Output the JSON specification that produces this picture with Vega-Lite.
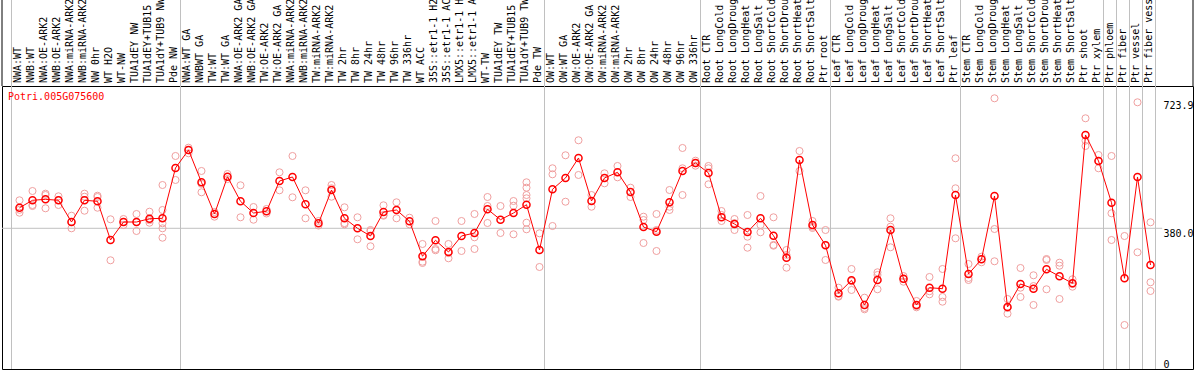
{
  "$schema": "https://vega.github.io/schema/vega-lite/v6.json",
  "width": 1191,
  "height": 283,
  "autosize": {"type": "none"},
  "padding": {"left": 2, "top": 86, "right": 1, "bottom": 1},
  "background": "white",
  "title": {"text": "Potri.005G075600", "orient": "bottom", "anchor": "start", "frame": "group", "offset": 0, "dx": 6, "dy": -278, "baseline": "top", "color": "#ff0000", "font": "DejaVu Sans Mono", "fontSize": 10, "fontWeight": "normal"},
  "config": {"view": {"stroke": "black", "strokeWidth": 1}, "font": "DejaVu Sans Mono"},
  "resolve": {"axis": {"x": "independent", "y": "independent"}},
  "datasets": {
    "groups": [
      {"group": "NW", "first": 1, "last": 13},
      {"group": "TW", "first": 14, "last": 41},
      {"group": "OW", "first": 42, "last": 53},
      {"group": "Root", "first": 54, "last": 63},
      {"group": "Leaf", "first": 64, "last": 73},
      {"group": "Stem", "first": 74, "last": 84},
      {"group": "Phloem", "first": 85, "last": 85},
      {"group": "Fiber", "first": 86, "last": 86},
      {"group": "Vessel", "first": 87, "last": 87},
      {"group": "FiberVessel", "first": 88, "last": 88}
    ],
    "means": [
      {"idx": 1, "sample": "NWA:WT", "mean": 435.6},
      {"idx": 2, "sample": "NWB:WT", "mean": 455.6},
      {"idx": 3, "sample": "NWA:OE-ARK2", "mean": 458.3},
      {"idx": 4, "sample": "NWB:OE-ARK2", "mean": 455.6},
      {"idx": 5, "sample": "NWA:miRNA-ARK2", "mean": 397.0},
      {"idx": 6, "sample": "NWB:miRNA-ARK2", "mean": 455.6},
      {"idx": 7, "sample": "NW 0hr", "mean": 452.9},
      {"idx": 8, "sample": "WT H2O", "mean": 348.4},
      {"idx": 9, "sample": "WT-NW", "mean": 397.0},
      {"idx": 10, "sample": "TUA1dEY NW", "mean": 397.0},
      {"idx": 11, "sample": "TUA1dEY+TUB15 NW", "mean": 405.9},
      {"idx": 12, "sample": "TUA1dY+TUB9 NW", "mean": 407.0},
      {"idx": 13, "sample": "Pde NW", "mean": 542.9},
      {"idx": 14, "sample": "NWA:WT GA", "mean": 591.5},
      {"idx": 15, "sample": "NWBWT GA", "mean": 504.2},
      {"idx": 16, "sample": "TW:WT", "mean": 418.6},
      {"idx": 17, "sample": "TW:WT GA", "mean": 519.4},
      {"idx": 18, "sample": "NWA:OE-ARK2 GA", "mean": 452.9},
      {"idx": 19, "sample": "NWB:OE-ARK2 GA", "mean": 421.3},
      {"idx": 20, "sample": "TW:OE-ARK2", "mean": 425.9},
      {"idx": 21, "sample": "TW:OE-ARK2 GA", "mean": 507.7},
      {"idx": 22, "sample": "NWA:miRNA-ARK2 GA", "mean": 518.6},
      {"idx": 23, "sample": "NWB:miRNA-ARK2 GA", "mean": 444.8},
      {"idx": 24, "sample": "TW:miRNA-ARK2", "mean": 393.5},
      {"idx": 25, "sample": "TW:miRNA-ARK2 GA", "mean": 483.4},
      {"idx": 26, "sample": "TW 2hr", "mean": 407.0},
      {"idx": 27, "sample": "TW 8hr", "mean": 380.0},
      {"idx": 28, "sample": "TW 24hr", "mean": 359.2},
      {"idx": 29, "sample": "TW 48hr", "mean": 424.0},
      {"idx": 30, "sample": "TW 96hr", "mean": 429.4},
      {"idx": 31, "sample": "TW 336hr", "mean": 398.9},
      {"idx": 32, "sample": "WT ACC", "mean": 304.4},
      {"idx": 33, "sample": "35S::etr1-1 H2O", "mean": 347.6},
      {"idx": 34, "sample": "35S::etr1-1 ACC", "mean": 316.0},
      {"idx": 35, "sample": "LMX5::etr1-1 H2O", "mean": 359.2},
      {"idx": 36, "sample": "LMX5::etr1-1 ACC", "mean": 367.3},
      {"idx": 37, "sample": "WT-TW", "mean": 431.3},
      {"idx": 38, "sample": "TUA1dEY TW", "mean": 403.2},
      {"idx": 39, "sample": "TUA1dEY+TUB15 TW", "mean": 421.3},
      {"idx": 40, "sample": "TUA1dY+TUB9 TW", "mean": 443.7},
      {"idx": 41, "sample": "Pde TW", "mean": 321.4},
      {"idx": 42, "sample": "OW:WT", "mean": 485.3},
      {"idx": 43, "sample": "OW:WT GA", "mean": 515.9},
      {"idx": 44, "sample": "OW:OE-ARK2", "mean": 569.9},
      {"idx": 45, "sample": "OW:OE-ARK2 GA", "mean": 453.7},
      {"idx": 46, "sample": "OW:miRNA-ARK2", "mean": 515.9},
      {"idx": 47, "sample": "OW:miRNA-ARK2 GA", "mean": 531.2},
      {"idx": 48, "sample": "OW 2hr", "mean": 478.0},
      {"idx": 49, "sample": "OW 8hr", "mean": 383.5},
      {"idx": 50, "sample": "OW 24hr", "mean": 370.8},
      {"idx": 51, "sample": "OW 48hr", "mean": 450.2},
      {"idx": 52, "sample": "OW 96hr", "mean": 534.8},
      {"idx": 53, "sample": "OW 336hr", "mean": 556.4},
      {"idx": 54, "sample": "Root CTR", "mean": 529.4},
      {"idx": 55, "sample": "Root LongCold", "mean": 409.7},
      {"idx": 56, "sample": "Root LongDrought", "mean": 391.6},
      {"idx": 57, "sample": "Root LongHeat", "mean": 370.0},
      {"idx": 58, "sample": "Root LongSalt", "mean": 407.0},
      {"idx": 59, "sample": "Root ShortCold", "mean": 360.0},
      {"idx": 60, "sample": "Root ShortDrought", "mean": 300.6},
      {"idx": 61, "sample": "Root ShortHeat", "mean": 564.5},
      {"idx": 62, "sample": "Root ShortSalt", "mean": 388.9},
      {"idx": 63, "sample": "Ptr root", "mean": 334.1},
      {"idx": 64, "sample": "Leaf CTR", "mean": 204.5},
      {"idx": 65, "sample": "Leaf LongCold", "mean": 239.6},
      {"idx": 66, "sample": "Leaf LongDrought", "mean": 172.9},
      {"idx": 67, "sample": "Leaf LongHeat", "mean": 240.4},
      {"idx": 68, "sample": "Leaf LongSalt", "mean": 375.4},
      {"idx": 69, "sample": "Leaf ShortCold", "mean": 243.9},
      {"idx": 70, "sample": "Leaf ShortDrought", "mean": 172.9},
      {"idx": 71, "sample": "Leaf ShortHeat", "mean": 219.6},
      {"idx": 72, "sample": "Leaf ShortSalt", "mean": 216.9},
      {"idx": 73, "sample": "Ptr leaf", "mean": 469.9},
      {"idx": 74, "sample": "Stem CTR", "mean": 256.6},
      {"idx": 75, "sample": "Stem LongCold", "mean": 296.3},
      {"idx": 76, "sample": "Stem LongDrought", "mean": 467.2},
      {"idx": 77, "sample": "Stem LongHeat", "mean": 167.5},
      {"idx": 78, "sample": "Stem LongSalt", "mean": 229.6},
      {"idx": 79, "sample": "Stem ShortCold", "mean": 216.9},
      {"idx": 80, "sample": "Stem ShortDrought", "mean": 269.3},
      {"idx": 81, "sample": "Stem ShortHeat", "mean": 250.4},
      {"idx": 82, "sample": "Stem ShortSalt", "mean": 231.5},
      {"idx": 83, "sample": "Ptr shoot", "mean": 632.0},
      {"idx": 84, "sample": "Ptr xylem", "mean": 561.8},
      {"idx": 85, "sample": "Ptr phloem", "mean": 449.1},
      {"idx": 86, "sample": "Ptr fiber", "mean": 245.0},
      {"idx": 87, "sample": "Ptr vessel", "mean": 518.6},
      {"idx": 88, "sample": "Ptr fiber vessel", "mean": 280.9}
    ],
    "reps": [
      {"idx":1,"value":455.6},{"idx":1,"value":430.0},{"idx":1,"value":422.1},
      {"idx":2,"value":480.7},{"idx":2,"value":442.9},{"idx":2,"value":440.2},
      {"idx":3,"value":473.5},{"idx":3,"value":469.9},{"idx":3,"value":434.0},
      {"idx":4,"value":466.4},{"idx":4,"value":456.4},{"idx":4,"value":442.9},
      {"idx":5,"value":414.0},{"idx":5,"value":397.0},{"idx":5,"value":380.0},
      {"idx":6,"value":473.5},{"idx":6,"value":465.3},{"idx":6,"value":427.5},
      {"idx":7,"value":468.0},{"idx":7,"value":464.5},{"idx":7,"value":435.6},
      {"idx":8,"value":404.3},{"idx":8,"value":293.6},
      {"idx":9,"value":405.1},{"idx":9,"value":397.0},{"idx":9,"value":388.9},
      {"idx":10,"value":418.6},{"idx":10,"value":397.0},{"idx":10,"value":372.7},
      {"idx":11,"value":424.8},{"idx":11,"value":402.0},{"idx":11,"value":395.1},
      {"idx":12,"value":496.9},{"idx":12,"value":429.4},{"idx":12,"value":393.5},{"idx":12,"value":380.0},{"idx":12,"value":354.6},
      {"idx":13,"value":575.3},{"idx":13,"value":510.5},
      {"idx":14,"value":597.7},{"idx":14,"value":591.0},{"idx":14,"value":582.6},
      {"idx":15,"value":534.8},{"idx":15,"value":500.0},{"idx":15,"value":477.2},
      {"idx":16,"value":424.0},{"idx":16,"value":411.3},
      {"idx":17,"value":526.7},{"idx":17,"value":513.0},
      {"idx":18,"value":496.1},{"idx":18,"value":409.7},
      {"idx":19,"value":437.5},{"idx":19,"value":403.2},
      {"idx":20,"value":432.1},{"idx":20,"value":420.0},
      {"idx":21,"value":531.2},{"idx":21,"value":482.6},
      {"idx":22,"value":575.3},{"idx":22,"value":463.7},
      {"idx":23,"value":482.6},{"idx":23,"value":407.0},
      {"idx":24,"value":399.7},{"idx":24,"value":387.5},
      {"idx":25,"value":496.9},{"idx":25,"value":488.0},{"idx":25,"value":465.3},
      {"idx":26,"value":436.7},{"idx":26,"value":394.0},{"idx":26,"value":390.8},
      {"idx":27,"value":409.7},{"idx":27,"value":350.3},
      {"idx":28,"value":375.4},{"idx":28,"value":371.9},{"idx":28,"value":331.4},
      {"idx":29,"value":442.1},{"idx":29,"value":416.0},{"idx":29,"value":414.0},
      {"idx":30,"value":450.2},{"idx":30,"value":407.0},
      {"idx":31,"value":408.6},{"idx":31,"value":390.8},
      {"idx":32,"value":337.6},{"idx":32,"value":289.8},{"idx":32,"value":286.3},
      {"idx":33,"value":399.7},{"idx":33,"value":324.0},{"idx":33,"value":320.6},
      {"idx":34,"value":337.6},{"idx":34,"value":313.0},{"idx":34,"value":299.0},
      {"idx":35,"value":399.7},{"idx":35,"value":318.7},
      {"idx":36,"value":418.6},{"idx":36,"value":355.7},{"idx":36,"value":324.1},
      {"idx":37,"value":464.5},{"idx":37,"value":440.2},{"idx":37,"value":394.3},
      {"idx":38,"value":440.2},{"idx":38,"value":367.3},
      {"idx":39,"value":453.7},{"idx":39,"value":441.0},{"idx":39,"value":363.8},
      {"idx":40,"value":504.2},{"idx":40,"value":489.7},{"idx":40,"value":469.9},{"idx":40,"value":461.0},{"idx":40,"value":395.1},{"idx":40,"value":377.3},
      {"idx":41,"value":366.5},{"idx":41,"value":275.5},
      {"idx":42,"value":542.1},{"idx":42,"value":525.8},{"idx":42,"value":386.2},
      {"idx":43,"value":577.2},{"idx":43,"value":451.8},
      {"idx":44,"value":617.7},{"idx":44,"value":524.0},
      {"idx":45,"value":469.9},{"idx":45,"value":438.3},
      {"idx":46,"value":528.5},{"idx":46,"value":501.5},
      {"idx":47,"value":548.3},{"idx":47,"value":517.7},
      {"idx":48,"value":489.7},{"idx":48,"value":464.5},
      {"idx":49,"value":411.3},{"idx":49,"value":402.4},{"idx":49,"value":340.3},
      {"idx":50,"value":418.6},{"idx":50,"value":375.4},{"idx":50,"value":318.7},
      {"idx":51,"value":483.4},{"idx":51,"value":438.3},{"idx":51,"value":429.4},
      {"idx":52,"value":596.9},{"idx":52,"value":542.1},{"idx":52,"value":469.9},
      {"idx":53,"value":562.6},{"idx":53,"value":556.0},{"idx":53,"value":549.1},
      {"idx":54,"value":548.3},{"idx":54,"value":542.1},{"idx":54,"value":498.8},
      {"idx":55,"value":426.7},{"idx":55,"value":416.0},{"idx":55,"value":399.7},
      {"idx":56,"value":405.1},{"idx":56,"value":394.0},{"idx":56,"value":375.4},
      {"idx":57,"value":415.9},{"idx":57,"value":357.3},{"idx":57,"value":327.6},
      {"idx":58,"value":467.2},{"idx":58,"value":388.9},{"idx":58,"value":369.2},
      {"idx":59,"value":409.7},{"idx":59,"value":335.0},{"idx":59,"value":333.0},
      {"idx":60,"value":321.4},{"idx":60,"value":308.0},{"idx":60,"value":273.6},
      {"idx":61,"value":588.8},{"idx":61,"value":534.8},
      {"idx":62,"value":399.7},{"idx":62,"value":384.3},{"idx":62,"value":380.8},
      {"idx":63,"value":375.4},{"idx":63,"value":335.0},{"idx":63,"value":294.4},
      {"idx":64,"value":219.6},{"idx":64,"value":197.0},{"idx":64,"value":195.3},
      {"idx":65,"value":270.1},{"idx":65,"value":237.0},{"idx":65,"value":213.4},
      {"idx":66,"value":192.6},{"idx":66,"value":164.8},{"idx":66,"value":161.2},
      {"idx":67,"value":261.2},{"idx":67,"value":253.9},{"idx":67,"value":215.3},
      {"idx":68,"value":407.0},{"idx":68,"value":384.3},{"idx":68,"value":328.7},
      {"idx":69,"value":251.0},{"idx":69,"value":243.0},{"idx":69,"value":235.8},
      {"idx":70,"value":183.7},{"idx":70,"value":170.0},{"idx":70,"value":166.6},
      {"idx":71,"value":248.5},{"idx":71,"value":210.0},{"idx":71,"value":201.7},
      {"idx":72,"value":270.1},{"idx":72,"value":194.5},{"idx":72,"value":181.8},
      {"idx":73,"value":569.1},{"idx":73,"value":488.0},{"idx":73,"value":353.0},
      {"idx":74,"value":283.6},{"idx":74,"value":245.8},{"idx":74,"value":240.4},
      {"idx":75,"value":303.3},{"idx":75,"value":297.0},{"idx":75,"value":288.2},
      {"idx":76,"value":731.1},{"idx":76,"value":378.1},{"idx":76,"value":290.9},
      {"idx":77,"value":189.1},{"idx":77,"value":164.8},{"idx":77,"value":149.4},
      {"idx":78,"value":272.8},{"idx":78,"value":219.6},{"idx":78,"value":194.5},
      {"idx":79,"value":253.1},{"idx":79,"value":224.0},{"idx":79,"value":172.9},
      {"idx":80,"value":297.1},{"idx":80,"value":294.4},{"idx":80,"value":215.3},
      {"idx":81,"value":287.1},{"idx":81,"value":279.0},{"idx":81,"value":189.1},
      {"idx":82,"value":242.3},{"idx":82,"value":229.6},{"idx":82,"value":222.3},
      {"idx":83,"value":677.1},{"idx":83,"value":616.6},{"idx":83,"value":602.3},
      {"idx":84,"value":578.0},{"idx":84,"value":562.0},{"idx":84,"value":542.1},
      {"idx":85,"value":575.3},{"idx":85,"value":420.5},{"idx":85,"value":348.4},
      {"idx":86,"value":359.2},{"idx":86,"value":118.8},
      {"idx":87,"value":720.3},{"idx":87,"value":315.2},
      {"idx":88,"value":396.2},{"idx":88,"value":234.2},{"idx":88,"value":210.7}
    ]
  },
  "layer": [
    {
      "data": {"name": "groups"},
      "mark": {"type": "rule", "color": "#c0c0c0", "strokeWidth": 1, "xOffset": -8},
      "encoding": {
        "x": {"field": "first", "type": "quantitative", "scale": {"domain": [-0.34615, 91.26923], "nice": false, "zero": false}, "axis": null},
        "y": {"datum": 0, "type": "quantitative", "scale": {"domain": [0, 764.3], "nice": false, "zero": false}, "axis": null},
        "y2": {"datum": 1000}
      }
    },
    {
      "data": {"name": "groups"},
      "mark": {"type": "rule", "color": "#c0c0c0", "strokeWidth": 1, "xOffset": 5},
      "encoding": {
        "x": {"field": "last", "type": "quantitative", "axis": null},
        "y": {"datum": 0, "type": "quantitative", "axis": null},
        "y2": {"datum": 1000}
      }
    },
    {
      "data": {"values": [{}]},
      "mark": {"type": "rule", "color": "#c0c0c0", "strokeWidth": 1},
      "encoding": {
        "x": {"datum": -0.34615, "type": "quantitative", "axis": null},
        "x2": {"datum": 88.9},
        "y": {"datum": 380, "type": "quantitative", "axis": null}
      }
    },
    {
      "data": {"values": [{}]},
      "mark": {"type": "rule", "color": "black", "strokeWidth": 1},
      "encoding": {
        "x": {"datum": -0.34615, "type": "quantitative", "axis": null},
        "y": {"datum": 764.3, "type": "quantitative", "axis": null},
        "y2": {"datum": 1000}
      }
    },
    {
      "data": {"values": [{}]},
      "mark": {"type": "rule", "color": "black", "strokeWidth": 1},
      "encoding": {
        "x": {"datum": 91.26923, "type": "quantitative", "axis": null},
        "y": {"datum": 764.3, "type": "quantitative", "axis": null},
        "y2": {"datum": 1000}
      }
    },
    {
      "data": {"name": "means"},
      "mark": {"type": "text", "angle": 270, "align": "left", "baseline": "middle", "dx": 3, "dy": -1.5, "font": "DejaVu Sans Mono", "fontSize": 10, "color": "black"},
      "encoding": {
        "x": {"field": "idx", "type": "quantitative", "axis": null},
        "y": {"datum": 764.3, "type": "quantitative", "axis": null},
        "text": {"field": "sample"}
      }
    },
    {
      "data": {"name": "reps"},
      "mark": {"type": "point", "shape": "circle", "filled": false, "size": 50, "strokeWidth": 1, "color": "#f0a0a0", "opacity": 1},
      "encoding": {
        "x": {"field": "idx", "type": "quantitative", "axis": null},
        "y": {"field": "value", "type": "quantitative", "axis": null}
      }
    },
    {
      "data": {"name": "means"},
      "mark": {"type": "line", "color": "#ff0000", "strokeWidth": 1},
      "encoding": {
        "x": {"field": "idx", "type": "quantitative", "axis": null},
        "y": {"field": "mean", "type": "quantitative", "axis": null}
      }
    },
    {
      "data": {"name": "means"},
      "mark": {"type": "point", "shape": "circle", "filled": false, "size": 50, "strokeWidth": 1.5, "color": "#ff0000", "opacity": 1},
      "encoding": {
        "x": {"field": "idx", "type": "quantitative", "axis": null},
        "y": {
          "field": "mean", "type": "quantitative",
          "axis": {
            "orient": "right", "offset": -31, "values": [0, 380, 723.9], "title": null,
            "domain": false, "ticks": false, "grid": false, "labelPadding": 1,
            "labelAlign": "left",
            "labelBaseline": {"condition": {"test": "datum.value == 0", "value": "bottom"}, "value": "top"},
            "labelExpr": "datum.value == 0 ? '0' : format(datum.value, '.1f')",
            "labelFont": "DejaVu Sans Mono", "labelFontSize": 10, "labelColor": "black",
            "labelOverlap": false, "labelFlush": false, "labelBound": false
          }
        }
      }
    }
  ]
}
